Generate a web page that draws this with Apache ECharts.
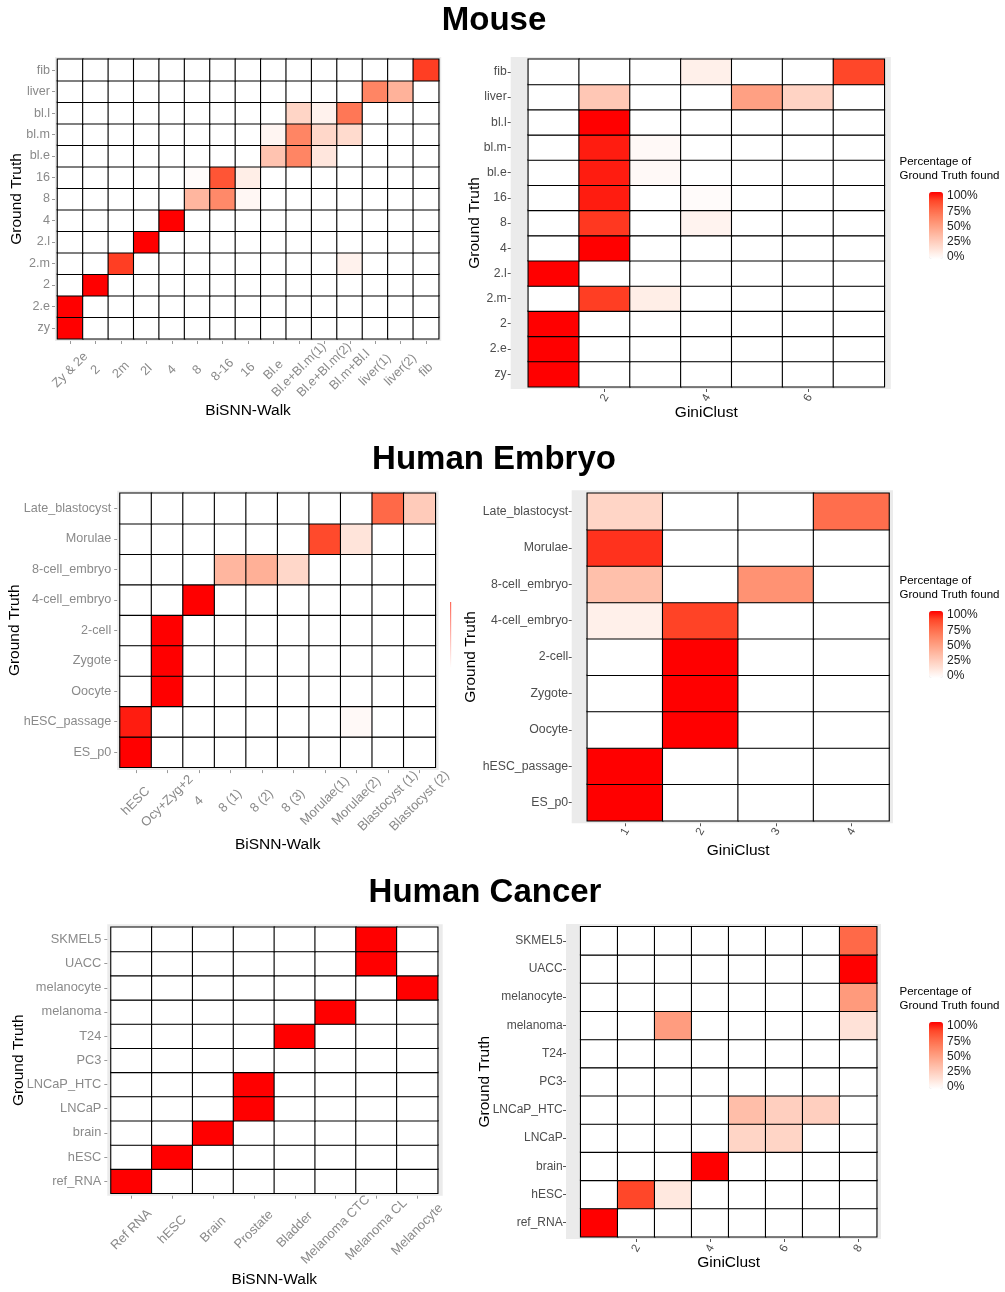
<!DOCTYPE html>
<html>
<head>
<meta charset="utf-8">
<script src="https://cdn.jsdelivr.net/npm/echarts@6/dist/echarts.min.js"></script>
<style>
html,body{margin:0;padding:0;background:#ffffff;}
#chart{width:1005px;height:1292px;}
</style>
</head>
<body>
<div id="chart"></div>
<script>
// ---------------- DATA ----------------
// Rows are listed bottom -> top (as on the y axis); values are % of ground truth found.
const mouseRows = ['zy','2.e','2','2.m','2.l','4','8','16','bl.e','bl.m','bl.l','liver','fib'];
const mouseBisnnCols = ['Zy & 2e','2','2m','2l','4','8','8-16','16','Bl.e','Bl.e+Bl.m(1)','Bl.e+Bl.m(2)','Bl.m+Bl.l','liver(1)','liver(2)','fib'];
const mouseBisnn = [
  [100,0,0,0,0,0,0,0,0,0,0,0,0,0,0],
  [100,0,0,0,0,0,0,0,0,0,0,0,0,0,0],
  [0,100,0,0,0,0,0,0,0,0,0,0,0,0,0],
  [0,0,89,0,0,0,0,0,0,0,0,7,0,0,0],
  [0,0,0,100,0,0,0,0,0,0,0,0,0,0,0],
  [0,0,0,0,100,0,0,0,0,0,0,0,0,0,0],
  [0,0,0,0,0,38,60,4,0,0,0,0,0,0,0],
  [0,0,0,0,0,2,82,9,0,0,0,0,0,0,0],
  [0,0,0,0,0,0,0,0,31,62,13,0,0,0,0],
  [0,0,0,0,0,0,0,0,5,62,21,19,0,0,0],
  [0,0,0,0,0,0,0,0,0,22,7,68,0,0,0],
  [0,0,0,0,0,0,0,0,0,0,0,0,62,40,0],
  [0,0,0,0,0,0,0,0,0,0,0,0,0,0,89]
];
const mouseGiniCols = ['1','2','3','4','5','6','7'];
const mouseGini = [
  [100,0,0,0,0,0,0],
  [100,0,0,0,0,0,0],
  [100,0,0,0,0,0,0],
  [0,89,9,0,0,0,0],
  [100,0,0,0,0,0,0],
  [0,100,0,0,0,0,0],
  [0,90,0,6,0,0,0],
  [0,95,0,2,0,0,0],
  [0,95,3,0,0,0,0],
  [0,95,3,0,0,0,0],
  [0,100,0,0,0,0,0],
  [0,29,0,0,49,23,0],
  [0,0,0,8,0,0,87]
];

const embryoRows = ['ES_p0','hESC_passage','Oocyte','Zygote','2-cell','4-cell_embryo','8-cell_embryo','Morulae','Late_blastocyst'];
const embryoBisnnCols = ['hESC','Ocy+Zyg+2','4','8 (1)','8 (2)','8 (3)','Morulae(1)','Morulae(2)','Blastocyst (1)','Blastocyst (2)'];
const embryoBisnn = [
  [100,0,0,0,0,0,0,0,0,0],
  [95,0,0,0,0,0,0,3,0,0],
  [0,100,0,0,0,0,0,0,0,0],
  [0,100,0,0,0,0,0,0,0,0],
  [0,100,0,0,0,0,0,0,0,0],
  [0,0,100,0,0,0,0,0,0,0],
  [0,0,0,38,41,21,0,0,0,0],
  [0,0,0,0,0,0,86,14,0,0],
  [0,0,0,0,0,0,0,0,74,27]
];
const embryoGiniCols = ['1','2','3','4'];
const embryoGini = [
  [100,0,0,0],
  [100,0,0,0],
  [0,100,0,0],
  [0,100,0,0],
  [0,100,0,0],
  [8,88,0,0],
  [33,0,56,0],
  [91,0,0,0],
  [22,0,0,72]
];

const cancerRows = ['ref_RNA','hESC','brain','LNCaP','LNCaP_HTC','PC3','T24','melanoma','melanocyte','UACC','SKMEL5'];
const cancerBisnnCols = ['Ref RNA','hESC','Brain','Prostate','Bladder','Melanoma CTC','Melanoma CL','Melanocyte'];
const cancerBisnn = [
  [100,0,0,0,0,0,0,0],
  [0,100,0,0,0,0,0,0],
  [0,0,100,0,0,0,0,0],
  [0,0,0,100,0,0,0,0],
  [0,0,0,100,0,0,0,0],
  [0,0,0,0,0,0,0,0],
  [0,0,0,0,100,0,0,0],
  [0,0,0,0,0,100,0,0],
  [0,0,0,0,0,0,0,100],
  [0,0,0,0,0,0,100,0],
  [0,0,0,0,0,0,100,0]
];
const cancerGiniCols = ['1','2','3','4','5','6','7','8'];
const cancerGini = [
  [100,0,0,0,0,0,0,0],
  [0,87,12,0,0,0,0,0],
  [0,0,0,100,0,0,0,0],
  [0,0,0,0,22,22,0,0],
  [0,0,0,0,34,25,25,0],
  [0,0,0,0,0,0,0,0],
  [0,0,0,0,0,0,0,0],
  [0,0,51,0,0,0,0,15],
  [0,0,0,0,0,0,0,52],
  [0,0,0,0,0,0,0,100],
  [0,0,0,0,0,0,0,74]
];

const sectionTitles = ['Mouse','Human Embryo','Human Cancer'];
const legendTitle = ['Percentage of','Ground Truth found'];
const legendTicks = ['100%','75%','50%','25%','0%'];

// ---------------- STYLE / LAYOUT ----------------
const FONT = '"Liberation Sans", Arial, Helvetica, sans-serif';
// white -> red gradient interpolated in Lab (like ggplot2 scale_fill_gradient)
const RAMP = ['#FFFFFF','#FFE7DE','#FFCFBF','#FFB7A0','#FF9E81','#FF8463','#FF6746','#FF4628','#FF0000'];

const panels = [
  {rows: mouseRows, cols: mouseBisnnCols, vals: mouseBisnn, xName: 'BiSNN-Walk', left: true,
   box: [57.5, 59.3, 438.7, 338.7], grey: [2.5, 2.5, 2.3, 2.3],
   yMargin: 5, xMargin: 29, yGap: 30, xGap: 62, yFs: 12.6, xFs: 12.8, rot: 45, every: 1},
  {rows: mouseRows, cols: mouseGiniCols, vals: mouseGini, xName: 'GiniClust', left: false,
   box: [528.3, 59.3, 884.3, 386.7], grey: [17.6, 6.5, 2.3, 2.3],
   yMargin: 4, xMargin: 9, yGap: 28, xGap: 16, yFs: 12.2, xFs: 11.5, rot: 60, every: 2},
  {rows: embryoRows, cols: embryoBisnnCols, vals: embryoBisnn, xName: 'BiSNN-Walk', left: true,
   box: [120, 493.3, 435.3, 767.3], grey: [2.8, 3.3, 2.5, 2.8],
   yMargin: 6, xMargin: 31, yGap: 94, xGap: 67, yFs: 12.6, xFs: 13, rot: 45, every: 1},
  {rows: embryoRows, cols: embryoGiniCols, vals: embryoGini, xName: 'GiniClust', left: false,
   box: [587.3, 493.3, 889, 820.7], grey: [15.6, 4, 3, 2.6],
   yMargin: 3.5, xMargin: 8.4, yGap: 93, xGap: 19, yFs: 12.3, xFs: 11.5, rot: 60, every: 1},
  {rows: cancerRows, cols: cancerBisnnCols, vals: cancerBisnn, xName: 'BiSNN-Walk', left: true,
   box: [111, 927.3, 437.7, 1193.3], grey: [3.7, 5, 3, 2.4],
   yMargin: 6, xMargin: 34, yGap: 81, xGap: 76, yFs: 12.8, xFs: 13, rot: 45, every: 1},
  {rows: cancerRows, cols: cancerGiniCols, vals: cancerGini, xName: 'GiniClust', left: false,
   box: [580.7, 926.7, 876.7, 1236.7], grey: [14.7, 4.3, 2.7, 2.3],
   yMargin: 3.3, xMargin: 9.3, yGap: 73, xGap: 16, yFs: 12, xFs: 11.5, rot: 60, every: 2}
];

const sectionPos = [[494, 21], [494, 460], [485, 893]];
const legendBarTops = [192, 611, 1022];

// ---------------- BUILD OPTION ----------------
const grid = [], xAxis = [], yAxis = [], series = [], graphic = [];

panels.forEach(function (p, i) {
  const [l, t, r, b] = p.box;
  const [gl, gr, gt, gb] = p.grey;
  const lblColor = p.left ? '#8a8a8a' : '#4d4d4d';
  const tickColor = p.left ? '#9a9a9a' : '#555555';
  grid.push({left: l, top: t, width: r - l, height: b - t, containLabel: false, outerBoundsMode: 'none'});
  graphic.push({type: 'rect', silent: true, z: 0,
    shape: {x: l - gl, y: t - gt, width: (r - l) + gl + gr, height: (b - t) + gt + gb},
    style: {fill: '#EBEBEB'}});
  const showIdx = function (idx) { return (idx + 1) % p.every === 0; };
  xAxis.push({
    type: 'category', gridIndex: i, data: p.cols, position: 'bottom', offset: gb,
    axisLine: {show: false},
    axisTick: {show: true, alignWithLabel: true, length: 3, interval: p.every === 1 ? 0 : showIdx,
      lineStyle: {color: tickColor, width: 1}},
    axisLabel: {interval: p.every === 1 ? 0 : showIdx, rotate: p.rot, align: 'center', verticalAlign: 'middle',
      margin: p.xMargin, color: lblColor, fontSize: p.xFs, fontFamily: FONT},
    splitLine: {show: false},
    name: p.xName, nameLocation: 'middle', nameGap: p.xGap, nameMoveOverlap: false,
    nameTextStyle: {color: '#000', fontSize: 15.5, fontFamily: FONT}
  });
  yAxis.push({
    type: 'category', gridIndex: i, data: p.rows, offset: gl,
    axisLine: {show: false},
    axisTick: {show: true, alignWithLabel: true, length: 3, lineStyle: {color: tickColor, width: 1}},
    axisLabel: {interval: 0, margin: p.yMargin, color: lblColor, fontSize: p.yFs, fontFamily: FONT},
    splitLine: {show: false},
    name: 'Ground Truth', nameLocation: 'middle', nameGap: p.yGap, nameMoveOverlap: false,
    nameTextStyle: {color: '#000', fontSize: 15.5, fontFamily: FONT}
  });
  const data = [];
  p.vals.forEach(function (row, ri) {
    row.forEach(function (v, ci) { data.push([ci, ri, v]); });
  });
  series.push({
    type: 'heatmap', xAxisIndex: i, yAxisIndex: i, data: data, z: 2,
    itemStyle: {borderColor: '#000000', borderWidth: 1.1},
    emphasis: {disabled: true}, label: {show: false}
  });
});

const visualMap = [];
for (let s = 0; s < 3; s++) {
  const top = legendBarTops[s];
  visualMap.push({
    type: 'continuous', seriesIndex: [2 * s, 2 * s + 1], min: 0, max: 100,
    inRange: {color: RAMP}, show: true, calculable: false, hoverLink: false,
    orient: 'vertical', left: 929, top: top, itemWidth: 14, itemHeight: 67, padding: 0
  });
  graphic.push({type: 'text', silent: true, x: 899.5, y: top - 30,
    style: {text: legendTitle[0], fill: '#000', font: '11.5px ' + FONT, textVerticalAlign: 'middle'}});
  graphic.push({type: 'text', silent: true, x: 899.5, y: top - 16,
    style: {text: legendTitle[1], fill: '#000', font: '11.5px ' + FONT, textVerticalAlign: 'middle'}});
  legendTicks.forEach(function (txt, k) {
    graphic.push({type: 'text', silent: true, x: 947, y: top + 4 + k * 15.25,
      style: {text: txt, fill: '#1a1a1a', font: '12px ' + FONT, textVerticalAlign: 'middle'}});
  });
  graphic.push({type: 'text', silent: true, x: sectionPos[s][0], y: sectionPos[s][1],
    style: {text: sectionTitles[s], fill: '#000', font: 'bold 33px ' + FONT,
      textAlign: 'center', textVerticalAlign: 'middle'}});
}
// clipped remnant of a colour bar visible in the middle row of the original figure
graphic.push({type: 'rect', silent: true, shape: {x: 450, y: 602, width: 1.2, height: 66},
  style: {fill: new echarts.graphic.LinearGradient(0, 0, 0, 1,
    [{offset: 0, color: '#FF6A5A'}, {offset: 1, color: '#FFFFFF'}])}});

const chart = echarts.init(document.getElementById('chart'), null, {renderer: 'canvas'});
chart.setOption({
  animation: false,
  backgroundColor: '#ffffff',
  textStyle: {fontFamily: FONT},
  grid: grid, xAxis: xAxis, yAxis: yAxis, series: series,
  visualMap: visualMap, graphic: graphic
});
</script>
</body>
</html>
